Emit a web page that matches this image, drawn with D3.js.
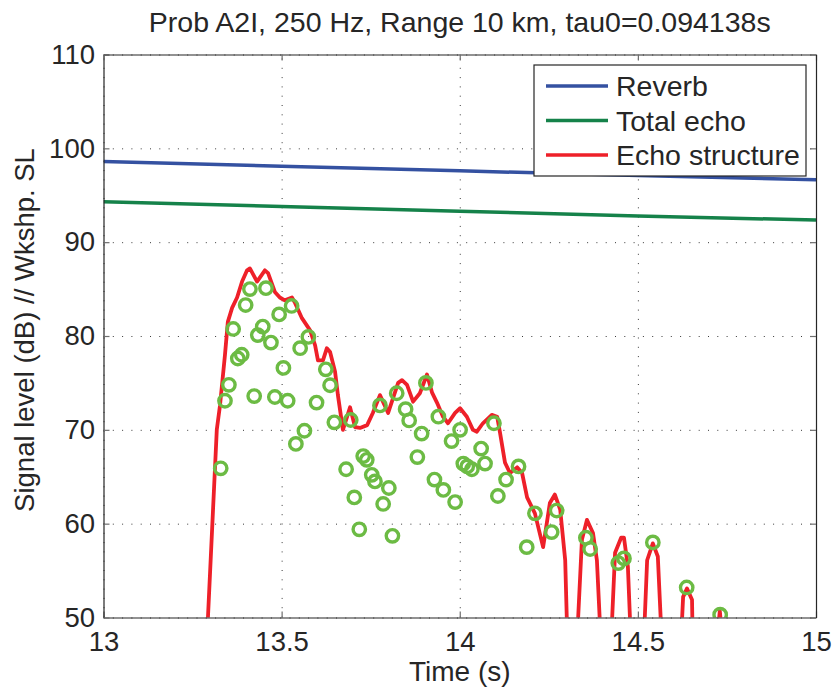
<!DOCTYPE html>
<html>
<head>
<meta charset="utf-8">
<script src="https://cdn.jsdelivr.net/npm/d3@7"></script>
<style>
  body { margin: 0; background: #fff; }
  text { font-family: "Liberation Sans", Arial, Helvetica, sans-serif; fill: #262626; }
</style>
</head>
<body>
<div id="chart"></div>
<script>
// tick values
var timeTicks = [13, 13.5, 14, 14.5, 15];
var levelTicks = [50, 60, 70, 80, 90, 100, 110];

// smooth background levels
var reverbTime = [13, 13.5, 14, 14.5, 15];
var reverbLevel = [98.6, 98.1, 97.6, 97.1, 96.65];
var totalTime = [13, 13.5, 14, 14.5, 15];
var totalLevel = [94.3, 93.8, 93.3, 92.8, 92.35];

// echo structure (red line)
var structTime = [13.287, 13.318, 13.327, 13.341, 13.349, 13.361, 13.375, 13.389, 13.403, 13.411,
  13.431, 13.453, 13.462, 13.481, 13.495, 13.509, 13.529, 13.538, 13.557, 13.580,
  13.594, 13.602, 13.616, 13.627, 13.636, 13.650, 13.658, 13.669, 13.672, 13.692,
  13.706, 13.720, 13.740, 13.756, 13.776, 13.799, 13.827, 13.838, 13.852, 13.869,
  13.888, 13.908, 13.922, 13.936, 13.953, 13.967, 13.987, 14.001, 14.020, 14.037,
  14.048, 14.065, 14.090, 14.105, 14.113, 14.127, 14.141, 14.161, 14.175, 14.189,
  14.211, 14.234, 14.253, 14.267, 14.282, 14.296, 14.304, 14.315, 14.326, 14.343,
  14.357, 14.374, 14.385, 14.399, 14.410, 14.422, 14.436, 14.453, 14.461, 14.472,
  14.483, 14.498, 14.514, 14.526, 14.542, 14.556, 14.570, 14.594, 14.618, 14.627,
  14.638, 14.652, 14.655, 14.690, 14.716, 14.730, 14.744];
var structLevel = [45, 70.0, 72.6, 78.0, 81.5, 83.0, 84.1, 85.8, 87.0, 87.2,
  85.8, 87.0, 86.7, 84.7, 84.1, 83.8, 84.1, 83.5, 81.9, 80.6,
  79.0, 77.4, 77.4, 78.7, 78.3, 76.2, 73.7, 70.8, 70.0, 72.4,
  70.3, 70.2, 70.5, 71.8, 73.7, 71.8, 75.0, 75.3, 74.8, 73.0,
  73.9, 75.9, 74.0, 72.9, 71.4, 70.7, 71.8, 72.3, 71.4, 70.0,
  69.8, 70.7, 71.6, 71.4, 69.7, 66.5, 65.4, 66.0, 65.4, 62.8,
  61.1, 57.5, 62.2, 63.1, 61.5, 56.1, 45, 40, 45, 58.3,
  60.4, 59.0, 56.1, 45, 40, 45, 56.9, 58.5, 58.5, 55.4,
  45, 40, 45, 56.1, 57.9, 56.5, 45, 40, 45, 52.2,
  53.1, 51.9, 45, 40, 45, 50.7, 45];

// individual arrivals (green circles)
var arrivalTime = [13.329, 13.341, 13.352, 13.364, 13.377, 13.388, 13.399, 13.411, 13.423, 13.433,
  13.447, 13.456, 13.470, 13.481, 13.493, 13.505, 13.517, 13.528, 13.540, 13.552,
  13.564, 13.575, 13.598, 13.624, 13.636, 13.648, 13.681, 13.694, 13.704, 13.718,
  13.729, 13.739, 13.753, 13.762, 13.776, 13.785, 13.801, 13.811, 13.823, 13.848,
  13.858, 13.881, 13.893, 13.905, 13.929, 13.940, 13.954, 13.977, 13.987, 14.001,
  14.010, 14.021, 14.034, 14.060, 14.071, 14.096, 14.107, 14.130, 14.165, 14.188,
  14.211, 14.258, 14.272, 14.354, 14.366, 14.445, 14.461, 14.542, 14.637, 14.731];
var arrivalLevel = [65.9, 73.1, 74.8, 80.75, 77.6, 78.0, 83.3, 85.0, 73.6, 80.1,
  81.0, 85.1, 79.3, 73.5, 82.3, 76.6, 73.1, 83.2, 68.5, 78.7,
  69.9, 79.9, 72.9, 76.45, 74.75, 70.8, 65.8, 71.05, 62.8, 59.4,
  67.2, 66.8, 65.2, 64.5, 72.6, 62.1, 63.8, 58.7, 73.9, 72.2,
  71.0, 67.1, 69.6, 75.0, 64.7, 71.4, 63.6, 68.8, 62.3, 70.0,
  66.4, 66.1, 65.8, 68.0, 66.4, 70.7, 62.95, 64.7, 66.1, 57.5,
  61.1, 59.1, 61.4, 58.5, 57.3, 55.8, 56.3, 58.0, 53.2, 50.3];

var seriesNames = ["Reverb", "Total echo", "Echo structure"];
var seriesColors = ["#3451a1", "#15824a", "#ee2029"];

var width = 835, height = 688;
var margin = {left: 103.5, right: 19, top: 54.5, bottom: 70.5};
var w = width - margin.left - margin.right;
var h = height - margin.top - margin.bottom;

var svg = d3.select("#chart")
  .append("svg")
  .attr("width", width)
  .attr("height", height);

var x = d3.scaleLinear().domain([13, 15]).range([0, w]);
var y = d3.scaleLinear().domain([50, 110]).range([h, 0]);

svg.append("defs").append("clipPath")
  .attr("id", "plotClip")
  .append("rect")
  .attr("width", w)
  .attr("height", h);

var g = svg.append("g")
  .attr("transform", "translate(" + margin.left + "," + margin.top + ")");

g.append("rect")
  .attr("width", w)
  .attr("height", h)
  .attr("fill", "#fff");

// dotted grid
g.append("g")
  .attr("class", "grid")
  .attr("transform", "translate(0," + h + ")")
  .call(d3.axisBottom(x).tickValues(timeTicks).tickSize(-h).tickFormat(""));
g.append("g")
  .attr("class", "grid")
  .call(d3.axisLeft(y).tickValues(levelTicks).tickSize(-w).tickFormat(""));
g.selectAll(".grid .domain").remove();
g.selectAll(".grid line")
  .attr("stroke", "#3a3a3a")
  .attr("stroke-width", 1)
  .attr("stroke-dasharray", "1,8.3");

var plot = g.append("g").attr("clip-path", "url(#plotClip)");

var line = d3.line()
  .x(function(d) { return x(d[0]); })
  .y(function(d) { return y(d[1]); });

plot.append("path")
  .datum(d3.zip(reverbTime, reverbLevel))
  .attr("d", line)
  .attr("fill", "none")
  .attr("stroke", seriesColors[0])
  .attr("stroke-width", 3.5);

plot.append("path")
  .datum(d3.zip(totalTime, totalLevel))
  .attr("d", line)
  .attr("fill", "none")
  .attr("stroke", seriesColors[1])
  .attr("stroke-width", 3.5);

plot.append("path")
  .datum(d3.zip(structTime, structLevel))
  .attr("d", line)
  .attr("fill", "none")
  .attr("stroke", seriesColors[2])
  .attr("stroke-width", 3.8)
  .attr("stroke-linejoin", "round");

plot.selectAll("circle.arrival")
  .data(d3.zip(arrivalTime, arrivalLevel))
  .enter()
  .append("circle")
  .attr("class", "arrival")
  .attr("cx", function(d) { return x(d[0]); })
  .attr("cy", function(d) { return y(d[1]); })
  .attr("r", 6.2)
  .attr("fill", "none")
  .attr("stroke", "#6cbb44")
  .attr("stroke-width", 3.4);

// axes with inward ticks on all four sides
var fmt = d3.format("~g");
var xAxis = d3.axisBottom(x).tickValues(timeTicks).tickFormat(fmt)
  .tickSizeInner(-6).tickSizeOuter(0).tickPadding(14);
var yAxis = d3.axisLeft(y).tickValues(levelTicks).tickFormat(fmt)
  .tickSizeInner(-6).tickSizeOuter(0).tickPadding(8.5);

var xg = g.append("g")
  .attr("transform", "translate(0," + h + ")")
  .call(xAxis);
var yg = g.append("g").call(yAxis);
var tg = g.append("g")
  .call(d3.axisTop(x).tickValues(timeTicks).tickSizeInner(-6).tickSizeOuter(0).tickFormat(""));
var rg = g.append("g")
  .attr("transform", "translate(" + w + ",0)")
  .call(d3.axisRight(y).tickValues(levelTicks).tickSizeInner(-6).tickSizeOuter(0).tickFormat(""));

[xg, yg, tg, rg].forEach(function(a) {
  a.select(".domain").attr("stroke", "#262626").attr("stroke-width", 1.2);
  a.selectAll(".tick line").attr("stroke", "#6e6e6e").attr("stroke-width", 1.2);
  a.selectAll(".tick text")
    .attr("fill", "#262626")
    .style("font-family", "'Liberation Sans', Arial, sans-serif")
    .style("font-size", "27.5px");
});

// legend
var legend = g.append("g")
  .attr("transform", "translate(" + (534 - margin.left) + "," + (65 - margin.top) + ")");
legend.append("rect")
  .attr("width", 272)
  .attr("height", 111)
  .attr("fill", "#fff")
  .attr("stroke", "#262626")
  .attr("stroke-width", 1.2);
var rows = legend.selectAll("g.row")
  .data(seriesNames)
  .enter()
  .append("g")
  .attr("class", "row")
  .attr("transform", function(d, i) { return "translate(0," + (21 + i * 34.5) + ")"; });
rows.append("line")
  .attr("x1", 12)
  .attr("x2", 74)
  .attr("stroke", function(d, i) { return seriesColors[i]; })
  .attr("stroke-width", 3.5);
rows.append("text")
  .attr("x", 82)
  .attr("dy", "0.36em")
  .style("font-size", "28.5px")
  .text(function(d) { return d; });

// title and axis labels
svg.append("text")
  .attr("x", margin.left + w / 2)
  .attr("y", 32)
  .attr("text-anchor", "middle")
  .style("font-size", "28.5px")
  .text("Prob A2I, 250 Hz, Range 10 km, tau0=0.094138s");

svg.append("text")
  .attr("x", margin.left + w / 2)
  .attr("y", 681)
  .attr("text-anchor", "middle")
  .style("font-size", "28px")
  .text("Time (s)");

svg.append("text")
  .attr("transform", "translate(34,330) rotate(-90)")
  .attr("text-anchor", "middle")
  .style("font-size", "27.5px")
  .text("Signal level (dB) // Wkshp. SL");
</script>
</body>
</html>
